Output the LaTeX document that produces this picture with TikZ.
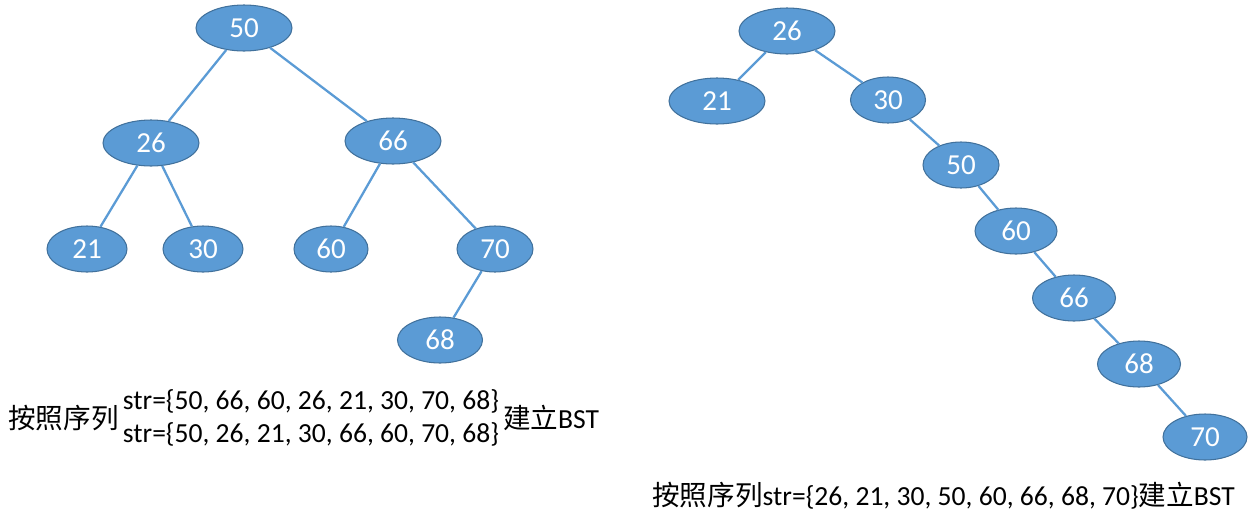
\documentclass[tikz,border=0pt]{standalone}
\usepackage{fontspec}
\setmainfont{Carlito}
\newfontfamily\cjk{Noto Sans CJK SC}
\usetikzlibrary{shapes.geometric,positioning}
\definecolor{nodeblue}{RGB}{91,155,213}
\definecolor{rimblue}{RGB}{65,113,156}
\tikzset{
    % 树结点
    bst/.style={
        ellipse,
        draw=rimblue,
        line width=0.6pt,
        fill=nodeblue,
        text=white,
        inner sep=0pt,
        minimum height=0.92cm,
        minimum width=1.6cm,
        font=\fontsize{16.5}{16.5}\selectfont
    },
    wide/.style={minimum width=1.92cm},
    % 连线
    link/.style={
        line width=1.3pt,
        nodeblue
    },
    caption/.style={
        inner sep=0pt,
        font=\fontsize{15.7}{18.6}\selectfont
    }
}

\begin{document}
\begin{tikzpicture}[x=0.02cm,y=-0.02cm]
    \useasboundingbox (0,0) rectangle (1253,514);

    % 左边的树
    \node[bst,wide] (l50) at (244,28) {50};
    \node[bst,wide] (l26) at (151,143) {26};
    \node[bst,wide] (l66) at (393,141) {66};
    \node[bst] (l21) at (87,249) {21};
    \node[bst] (l30) at (203,249) {30};
    \node[bst,minimum width=1.48cm] (l60) at (331,249) {60};
    \node[bst,minimum width=1.52cm] (l70) at (495,249) {70};
    \node[bst,minimum width=1.7cm] (l68) at (440,340) {68};

    \draw[link] (l50) -- (l26);
    \draw[link] (l50) -- (l66);
    \draw[link] (l26) -- (l21);
    \draw[link] (l26) -- (l30);
    \draw[link] (l66) -- (l60);
    \draw[link] (l66) -- (l70);
    \draw[link] (l70) -- (l68);

    % 右边的树
    \node[bst,wide] (r26) at (787,31) {26};
    \node[bst,wide] (r21) at (717,101) {21};
    \node[bst,minimum width=1.5cm] (r30) at (888,100) {30};
    \node[bst,minimum width=1.52cm] (r50) at (961,165) {50};
    \node[bst,minimum width=1.64cm] (r60) at (1016,231) {60};
    \node[bst,minimum width=1.66cm] (r66) at (1074,298) {66};
    \node[bst,minimum width=1.66cm] (r68) at (1139,364) {68};
    \node[bst,minimum width=1.68cm] (r70) at (1205,437) {70};

    \draw[link] (r26) -- (r21);
    \draw[link] (r26) -- (r30);
    \draw[link] (r30) -- (r50);
    \draw[link] (r50) -- (r60);
    \draw[link] (r60) -- (r66);
    \draw[link] (r66) -- (r68);
    \draw[link] (r68) -- (r70);

    % 说明文字
    \node[caption,anchor=west] (lpre) at (8,418) {\cjk 按照序列};
    \node[caption,anchor=west,align=left,right=2pt of lpre] (lseq)
        {str=\{50, 66, 60, 26, 21, 30, 70, 68\}\\str=\{50, 26, 21, 30, 66, 60, 70, 68\}};
    \node[caption,right=2pt of lseq] (lpost) {{\cjk 建立}BST};

    \node[caption,anchor=west] (rcap) at (652,496)
        {{\cjk 按照序列}str=\{26, 21, 30, 50, 60, 66, 68, 70\}{\cjk 建立}BST};
\end{tikzpicture}
\end{document}
